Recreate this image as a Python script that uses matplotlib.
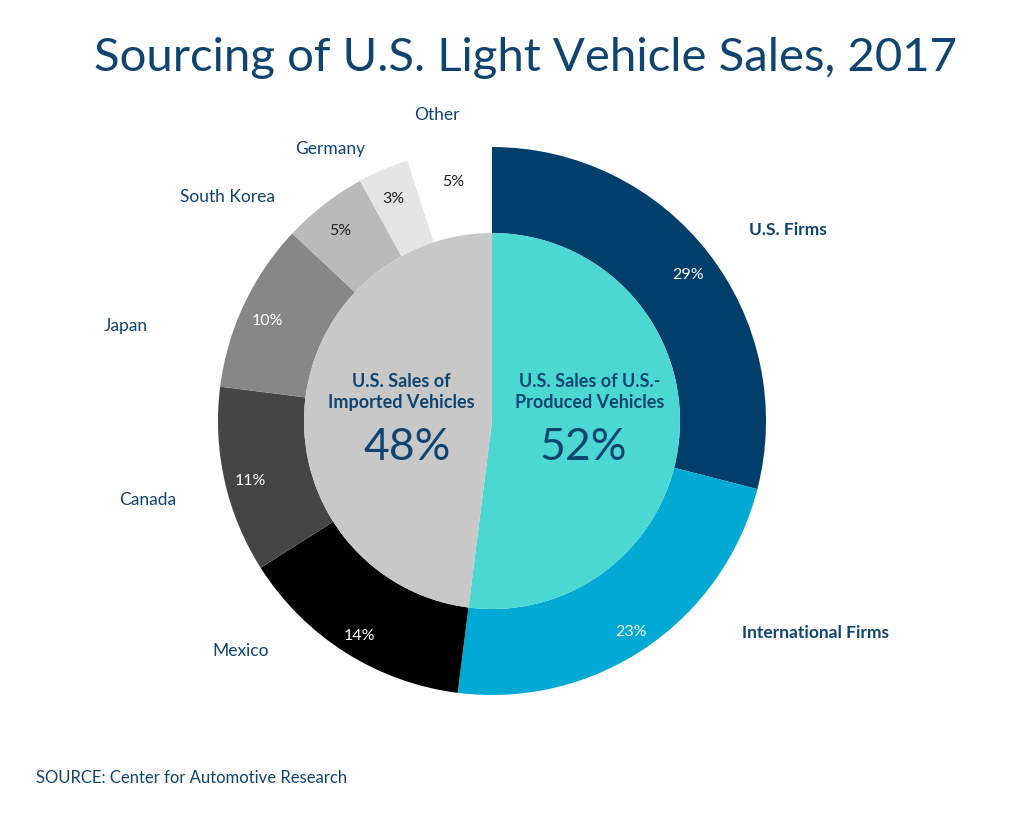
import numpy as np
import matplotlib
matplotlib.use("Agg")
from matplotlib import pyplot as plt

plt.rcParams["font.family"] = ["Lato", "DejaVu Sans"]

# outer ring, clockwise from 12 o'clock
outer_names = ["U.S. Firms", "International Firms", "Mexico", "Canada",
               "Japan", "South Korea", "Germany", "Other"]
outer_vals = [29, 23, 14, 11, 10, 5, 3, 5]
outer_colors = ["#003f6b", "#00aad4", "#000000", "#454545",
                "#878787", "#bababa", "#e5e5e5", "#ffffff"]
pct_colors = ["white", "white", "white", "white", "white",
              "#222222", "#222222", "#222222"]

# inner pie
inner_names = ["U.S. Sales of U.S.-\nProduced Vehicles",
               "U.S. Sales of\nImported Vehicles"]
inner_vals = [52, 48]
inner_colors = ["#4cd8d2", "#c8c8c8"]

# label positions in pixels (x, y from top)
label_pos = [(788, 230), (815, 633), (241, 651), (148, 500),
             (126, 326), (228, 197), (330, 149), (437, 115)]
bold_labels = ["U.S. Firms", "International Firms"]
inner_txt_pos = [(590, 392), (401, 392)]
inner_pct_pos = [(583, 448), (407, 448)]

W, H = 1030, 816
cx, cy = 492, H - 421
R_out, R_in = 274, 188
blue = "#0f4470"

fig = plt.figure(figsize=(W / 100, H / 100), dpi=100)
ax = fig.add_axes([0, 0, 1, 1])

wedges, _, pcts = ax.pie(
    outer_vals, colors=outer_colors, startangle=90, counterclock=False,
    radius=R_out, center=(cx, cy), frame=True,
    autopct=lambda p: f"{p:.0f}%", pctdistance=0.905,
    wedgeprops=dict(width=R_out - R_in, linewidth=0),
    textprops=dict(fontsize=11.5),
)
for t, c in zip(pcts, pct_colors):
    t.set_color(c)
    x, y = t.get_position()
    t.set_position((x, y - 6))

ax.pie(inner_vals, colors=inner_colors, startangle=90, counterclock=False,
       radius=R_in, center=(cx, cy), frame=True,
       wedgeprops=dict(linewidth=0))

for name, (x, y) in zip(outer_names, label_pos):
    ax.text(x, H - y, name, ha="center", va="center", fontsize=12.5,
            color=blue, fontweight="bold" if name in bold_labels else "normal")

for name, val, (x, y), (px, py) in zip(inner_names, inner_vals,
                                        inner_txt_pos, inner_pct_pos):
    ax.text(x, H - y, name, ha="center", va="center", fontsize=13,
            color=blue, fontweight="bold", linespacing=1.25)
    ax.text(px, H - py, f"{val}%", ha="center", va="center", fontsize=32,
            color=blue)

ax.text(525, H - 58, "Sourcing of U.S. Light Vehicle Sales, 2017",
        ha="center", va="center", fontsize=34, color=blue)
ax.text(36, H - 778, "SOURCE: Center for Automotive Research",
        ha="left", va="center", fontsize=12, color=blue)

ax.set_xlim(0, W)
ax.set_ylim(0, H)
ax.set_aspect("equal")
ax.axis("off")

fig.savefig("out.png", dpi=100, facecolor="white")
